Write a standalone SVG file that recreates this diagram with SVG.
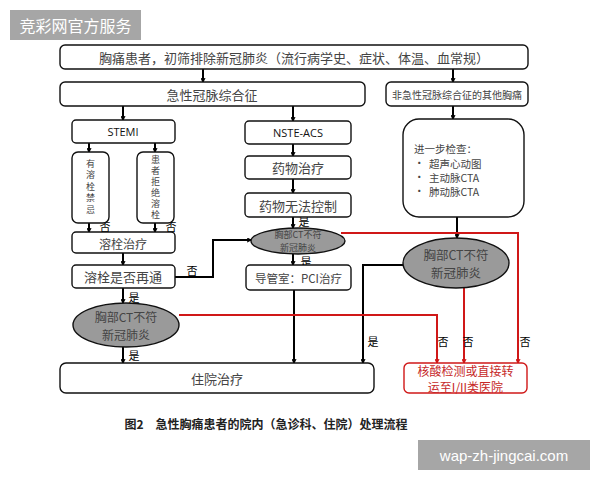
<svg xmlns="http://www.w3.org/2000/svg" width="600" height="480" viewBox="0 0 600 480">
<defs>
<marker id="ab" viewBox="0 0 10 10" refX="9" refY="5" markerWidth="5" markerHeight="5" orient="auto" markerUnits="userSpaceOnUse">
<path d="M1,1 L9,5 L1,9" fill="none" stroke="#000" stroke-width="2.2"/>
</marker>
<marker id="ar" viewBox="0 0 10 10" refX="9" refY="5" markerWidth="5" markerHeight="5" orient="auto" markerUnits="userSpaceOnUse">
<path d="M1,1 L9,5 L1,9" fill="none" stroke="#d01818" stroke-width="2.2"/>
</marker>
<style>
.box{fill:#fff;stroke:#111;stroke-width:1.4}
.ell{fill:#9a9a9a;stroke:#111;stroke-width:1.4}
.t{font-family:"Noto Sans CJK SC","Noto Sans",sans-serif;fill:#444;text-anchor:middle;dominant-baseline:central}
.v{font-family:"Noto Sans CJK SC",sans-serif;fill:#444;font-size:9px;writing-mode:vertical-rl;text-anchor:middle;dominant-baseline:central}
.lk{fill:none;stroke:#000;stroke-width:2;marker-end:url(#ab)}
.lr{fill:none;stroke:#d01818;stroke-width:2;marker-end:url(#ar)}
.lb{font-family:"Noto Sans CJK SC",sans-serif;font-size:11px;fill:#000;text-anchor:middle;dominant-baseline:central}
</style>
</defs>
<rect width="600" height="480" fill="#fff"/>

<g id="wm1"><rect x="10" y="10" width="131" height="30" fill="#a6a6a6"/><text x="75.5" y="25" class="t" style="fill:#fff;font-size:16px">竞彩网官方服务</text></g>

<g id="connectors">
<path class="lk" d="M203,69 V82"/>
<path class="lk" d="M453,69 V82"/>
<path class="lk" d="M123,106 V120"/>
<path class="lk" d="M293,106 V121"/>
<path class="lk" d="M89,143 V152"/>
<path class="lk" d="M155,143 V152"/>
<path class="lk" d="M89,223 V232"/>
<path class="lk" d="M155,223 V232"/>
<path class="lk" d="M123,253 V265"/>
<path class="lk" d="M175,277 H213 V240 H251"/>
<path class="lk" d="M123,288 V303"/>
<path class="lk" d="M123,347 V363"/>
<path class="lk" d="M293,144 V156"/>
<path class="lk" d="M293,179 V193"/>
<path class="lk" d="M293,217 V228"/>
<path class="lk" d="M293,254 V265"/>
<path class="lk" d="M294,290 V363"/>
<path class="lk" d="M453,106 V119"/>
<path class="lk" d="M457,217 V238"/>
<path class="lk" d="M403,265 H363 V363"/>
<path class="lr" d="M179,315 H437 V363"/>
<path class="lr" d="M341,233 H518 V363"/>
<path class="lr" d="M464,287 V363"/>
<text class="lb" x="105" y="226">否</text>
<text class="lb" x="171" y="226">否</text>
<text class="lb" x="192" y="270">否</text>
<text class="lb" x="134" y="297">是</text>
<text class="lb" x="134" y="355">是</text>
<text class="lb" x="304" y="221">是</text>
<text class="lb" x="306" y="261">是</text>
<text class="lb" x="373" y="341">是</text>
<text class="lb" x="443" y="341">否</text>
<text class="lb" x="468" y="341">否</text>
<text class="lb" x="525" y="341">否</text>
</g>

<g id="n1"><rect class="box" x="60" y="45" width="468" height="24" rx="5"/><text class="t" x="294" y="57" font-size="13">胸痛患者，初筛排除新冠肺炎（流行病学史、症状、体温、血常规）</text></g>
<g id="n2"><rect class="box" x="60" y="82" width="305" height="24" rx="5"/><text class="t" x="212" y="94" font-size="13">急性冠脉综合征</text></g>
<g id="n3"><rect class="box" x="386" y="82" width="142" height="24" rx="5"/><text class="t" x="457" y="94" font-size="10">非急性冠脉综合征的其他胸痛</text></g>
<g id="n4"><rect class="box" x="72" y="120" width="103" height="23" rx="4"/><text class="t" x="123" y="131.5" font-size="11" style="font-family:'Open Sans',sans-serif;fill:#111">STEMI</text></g>
<g id="n5"><rect class="box" x="72" y="152" width="37" height="71" rx="6"/><text class="v" x="90.5" y="187.5" letter-spacing="2.5">有溶栓禁忌</text></g>
<g id="n6"><rect class="box" x="137" y="152" width="37" height="71" rx="6"/><text class="v" x="155.5" y="188" letter-spacing="2">患者拒绝溶栓</text></g>
<g id="n7"><rect class="box" x="72" y="232" width="103" height="21" rx="4"/><text class="t" x="123" y="243" font-size="12">溶栓治疗</text></g>
<g id="n8"><rect class="box" x="72" y="265" width="103" height="23" rx="4"/><text class="t" x="123" y="276.5" font-size="13">溶栓是否再通</text></g>
<g id="n9"><ellipse class="ell" cx="126" cy="325" rx="53" ry="22"/><text class="t" x="126" y="316" font-size="12">胸部CT不符</text><text class="t" x="126" y="334" font-size="12">新冠肺炎</text></g>
<g id="n10"><rect class="box" x="60" y="363" width="314" height="30" rx="6"/><text class="t" x="217" y="378" font-size="13">住院治疗</text></g>
<g id="n11"><rect class="box" x="245" y="121" width="106" height="23" rx="4"/><text class="t" x="298" y="132.5" font-size="11" style="font-family:'Open Sans',sans-serif;fill:#111">NSTE-ACS</text></g>
<g id="n12"><rect class="box" x="245" y="156" width="106" height="23" rx="4"/><text class="t" x="298" y="167.5" font-size="13">药物治疗</text></g>
<g id="n13"><rect class="box" x="245" y="193" width="106" height="24" rx="4"/><text class="t" x="298" y="205" font-size="13">药物无法控制</text></g>
<g id="n14"><ellipse class="ell" cx="298" cy="241" rx="47" ry="13"/><text class="t" x="298" y="234.5" font-size="9">胸部CT不符</text><text class="t" x="298" y="247.5" font-size="9">新冠肺炎</text></g>
<g id="n15"><rect class="box" x="246" y="265" width="105" height="25" rx="4"/><text class="t" x="298.5" y="277.5" font-size="11.5">导管室：PCI治疗</text></g>
<g id="n16"><rect class="box" x="403" y="119" width="121" height="98" rx="16"/>
<text class="t" style="text-anchor:start" x="414" y="148.5" font-size="10.5">进一步检查：</text>
<text class="t" style="text-anchor:start" x="414" y="162.5" font-size="10.5">•<tspan x="429">超声心动图</tspan></text>
<text class="t" style="text-anchor:start" x="414" y="176.5" font-size="10.5">•<tspan x="429">主动脉CTA</tspan></text>
<text class="t" style="text-anchor:start" x="414" y="190.5" font-size="10.5">•<tspan x="429">肺动脉CTA</tspan></text></g>
<g id="n17"><ellipse class="ell" cx="456" cy="263" rx="53" ry="25"/><text class="t" x="456" y="254.5" font-size="12.5">胸部CT不符</text><text class="t" x="456" y="272" font-size="12.5">新冠肺炎</text></g>
<g id="n18"><rect x="404" y="363" width="123" height="30" rx="5" fill="#fff" stroke="#d01818" stroke-width="1.4"/><text class="t" x="465.5" y="370.5" font-size="12" style="fill:#c62828">核酸检测或直接转</text><text class="t" x="465.5" y="386" font-size="12" style="fill:#c62828">运至I/II类医院</text></g>

<g id="caption"><text x="266" y="423" class="t" font-size="12" font-weight="bold" style="fill:#222">图2　急性胸痛患者的院内（急诊科、住院）处理流程</text></g>
<g id="wm2"><rect x="418" y="440" width="172" height="30" fill="#a6a6a6"/><text x="504" y="455" class="t" style="fill:#fff;font-size:15px;font-family:'Liberation Sans',sans-serif">wap-zh-jingcai.com</text></g>
</svg>
